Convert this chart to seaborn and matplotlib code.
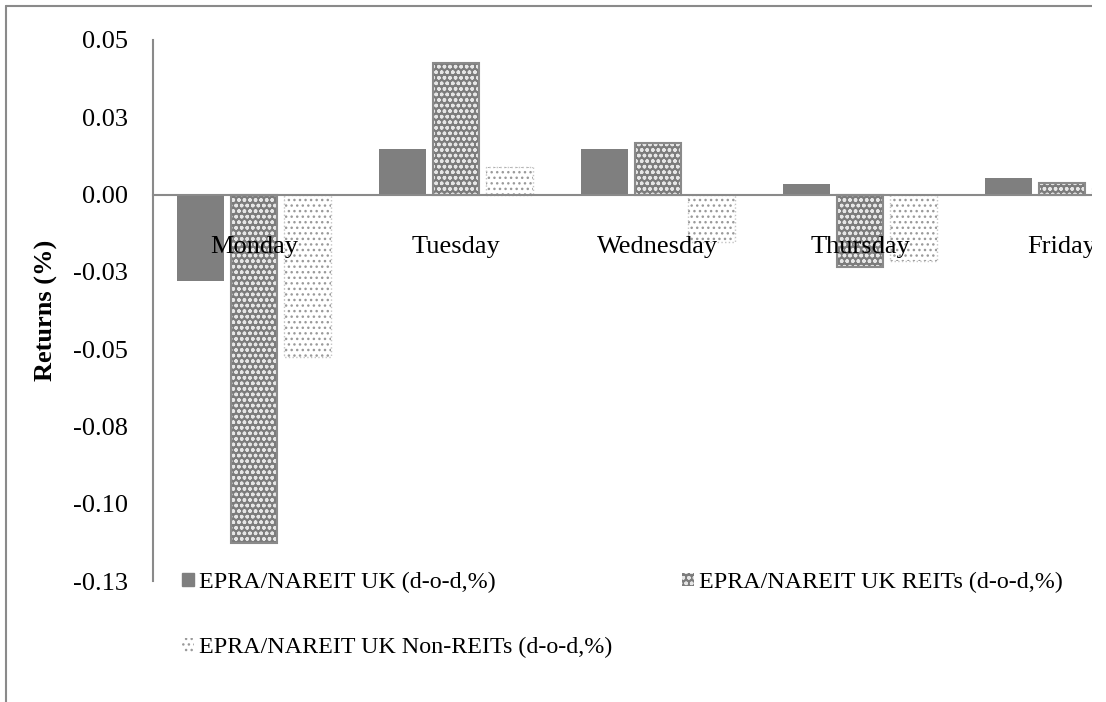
import numpy as np
import pandas as pd
import matplotlib
matplotlib.use('Agg')
import matplotlib.pyplot as plt
from matplotlib.patches import Patch, Rectangle
from matplotlib.lines import Line2D
import seaborn as sns

days = ['Monday', 'Tuesday', 'Wednesday', 'Thursday', 'Friday']
series = ['EPRA/NAREIT UK (d-o-d,%)',
          'EPRA/NAREIT UK REITs (d-o-d,%)',
          'EPRA/NAREIT UK Non-REITs (d-o-d,%)']
uk = [-0.0281, 0.0146, 0.0147, 0.0033, 0.0055]
reits = [-0.1126, 0.0425, 0.0167, -0.0233, 0.0039]
non_reits = [-0.0524, 0.0090, -0.0152, -0.0215, 0.0020]
y_ticks = [0.05, 0.025, 0.0, -0.025, -0.05, -0.075, -0.10, -0.125]
y_tick_labels = ['0.05', '0.03', '0.00', '-0.03', '-0.05', '-0.08', '-0.10', '-0.13']

df = pd.DataFrame({
    'day': days * 3,
    'series': np.repeat(series, len(days)),
    'ret': uk + reits + non_reits,
})

sns.set_theme(style='white')
plt.rcParams['font.family'] = ['Liberation Serif', 'DejaVu Serif']
plt.rcParams['hatch.linewidth'] = 1.0
for key in ['text.color', 'axes.labelcolor', 'xtick.color', 'ytick.color']:
    plt.rcParams[key] = 'black'

GRAY = '#7f7f7f'
LINE = '#8a8a8a'

W, H = 1106, 702
fig = plt.figure(figsize=(W / 100, H / 100), dpi=100)
ax = fig.add_axes([153 / W, (H - 581) / H, (1163 - 153) / W, (581 - 40) / H])

sns.barplot(data=df, x='day', y='ret', hue='series', hue_order=series,
            palette=[GRAY, '#7c7c7c', 'white'], width=0.8, gap=0.13,
            saturation=1, errorbar=None, legend=False, linewidth=0, ax=ax)

# patterns on top of the seaborn bars
for bar in ax.containers[1]:
    xy, w, h = bar.get_xy(), bar.get_width(), bar.get_height()
    ax.add_patch(Rectangle(xy, w, h, fill=False, hatch='ooo', edgecolor='#e6e6e6', lw=0, zorder=3))
    ax.add_patch(Rectangle(xy, w, h, fill=False, edgecolor=LINE, lw=1.5, zorder=3.1))
for bar in ax.containers[2]:
    xy, w, h = bar.get_xy(), bar.get_width(), bar.get_height()
    ax.add_patch(Rectangle(xy, w, h, fill=False, hatch='...', edgecolor='#9a9a9a', lw=0, zorder=3))
    ax.add_patch(Rectangle(xy, w, h, fill=False, edgecolor='#c4c4c4', lw=1, ls=':', zorder=3.1))

ax.set_xlim(-0.5, 4.5)
ax.set_ylim(-0.125, 0.05)
ax.set_yticks(y_ticks)
ax.set_yticklabels(y_tick_labels)
ax.set_xlabel('')
ax.set_ylabel('Returns (%)', fontsize=19, fontweight='bold')
ax.yaxis.set_label_coords(-0.094, 0.5)

for side in ['top', 'right']:
    ax.spines[side].set_visible(False)
ax.spines['bottom'].set_position(('data', 0))
for side in ['left', 'bottom']:
    ax.spines[side].set_color(LINE)
    ax.spines[side].set_linewidth(1.5)
    ax.spines[side].set_zorder(5)
ax.xaxis.set_zorder(6)

ax.tick_params(axis='x', length=0, pad=30, labelsize=19)
ax.tick_params(axis='y', length=0, pad=18, labelsize=19)

handles = [
    Patch(facecolor=GRAY, edgecolor=GRAY, label=series[0]),
    Patch(facecolor='white', edgecolor='#9a9a9a', hatch='...', lw=0, label=series[2]),
    Patch(facecolor='#7c7c7c', edgecolor='#e6e6e6', hatch='ooo', lw=0, label=series[1]),
]
fig.legend(handles=handles, loc='upper left', bbox_to_anchor=(182 / W, (H - 572) / H),
           ncol=2, frameon=False, fontsize=17.3, handlelength=0.5, handleheight=0.5,
           handletextpad=0.2, columnspacing=2.9, labelspacing=1.83,
           borderpad=0, borderaxespad=0)

# chart border (top and left) and the cropped right edge
fig.add_artist(Line2D([6 / W, 6 / W], [0, (H - 6) / H], color=LINE, lw=1.5))
fig.add_artist(Line2D([6 / W, 1092 / W], [(H - 6) / H, (H - 6) / H], color=LINE, lw=1.5))
fig.add_artist(Rectangle((1092 / W, 0), 14 / W, 1, transform=fig.transFigure,
                         facecolor='white', edgecolor='none', zorder=10))

fig.savefig('out.png', dpi=100)
plt.close(fig)
